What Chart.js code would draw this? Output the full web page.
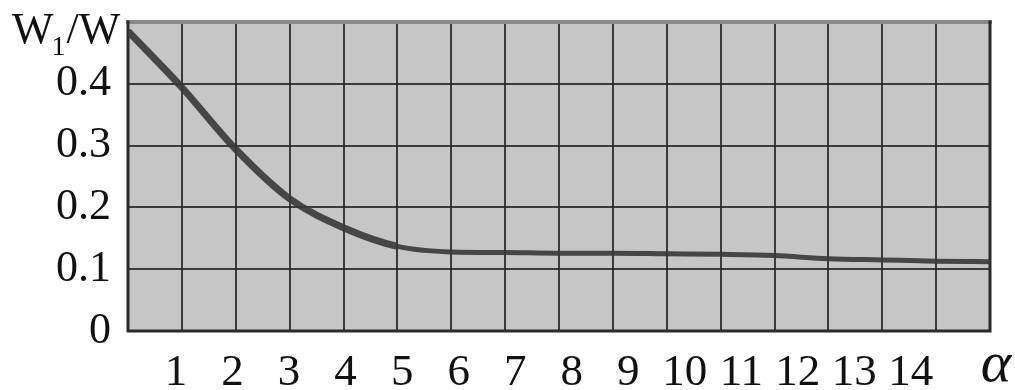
<!DOCTYPE html>
<html><head><meta charset="utf-8">
<script src="https://cdn.jsdelivr.net/npm/chart.js@4/dist/chart.umd.min.js"></script>
<style>html,body{margin:0;padding:0;background:#fff;overflow:hidden;}</style>
</head><body>
<canvas id="c" width="1015" height="390"></canvas>
<script>
// ---- data ----
const alphaGrid = [0, 1, 2, 3, 4, 5, 6, 7, 8, 9, 10, 11, 12, 13, 14, 15, 16];
const ratioW1W  = [0.485, 0.394, 0.294, 0.214, 0.167, 0.137, 0.128, 0.127, 0.126, 0.126, 0.125, 0.124, 0.122, 0.117, 0.115, 0.113, 0.112];
const xTickValues = [1, 2, 3, 4, 5, 6, 7, 8, 9, 10, 11, 12, 13, 14];
const xTickLabels = ['1','2','3','4','5','6','7','8','9','10','11','12','13','14'];
const xAxisTitle = 'α';
const yTickValues = [0, 0.1, 0.2, 0.3, 0.4];
const yTickLabels = ['0', '0.1', '0.2', '0.3', '0.4'];
const yTitleMain = 'W', yTitleSub = '1', yTitleRest = '/W';

const SERIF = '"Liberation Serif", "Times New Roman", serif';
const gridColor = 'rgba(35,35,35,0.85)';

const bgPlugin = {
  id: 'bg',
  beforeDraw(chart) {
    const {ctx, chartArea: a} = chart;
    ctx.save();
    ctx.fillStyle = '#c6c6c6';
    ctx.fillRect(a.left, a.top, a.right - a.left, a.bottom - a.top);
    ctx.restore();
  }
};
const borderPlugin = {
  id: 'frame',
  beforeDatasetsDraw(chart) {
    const {ctx, chartArea: a} = chart;
    ctx.save();
    ctx.lineCap = 'square';
    ctx.strokeStyle = '#8a8a8a'; ctx.lineWidth = 4;
    ctx.beginPath(); ctx.moveTo(a.left, a.top); ctx.lineTo(a.right, a.top); ctx.stroke();
    ctx.strokeStyle = '#2a2a2a'; ctx.lineWidth = 3;
    ctx.beginPath(); ctx.moveTo(a.left, a.top); ctx.lineTo(a.left, a.bottom); ctx.lineTo(a.right, a.bottom); ctx.lineTo(a.right, a.top); ctx.stroke();
    ctx.restore();
  }
};
const titlePlugin = {
  id: 'titles',
  afterDraw(chart) {
    const {ctx, chartArea: a} = chart;
    ctx.save();
    ctx.fillStyle = '#111';
    ctx.textBaseline = 'alphabetic';
    ctx.textAlign = 'left';
    // y-axis title W1/W
    const base = a.top + 21;
    let x = a.left - 116;
    ctx.font = '44px ' + SERIF;
    ctx.fillText(yTitleMain, x, base);
    x += ctx.measureText(yTitleMain).width - 2;
    ctx.font = '28px ' + SERIF;
    ctx.fillText(yTitleSub, x, base + 12);
    x += ctx.measureText(yTitleSub).width + 1;
    ctx.font = '44px ' + SERIF;
    ctx.fillText(yTitleRest, x, base);
    // x-axis title alpha
    ctx.font = 'italic 58px ' + SERIF;
    ctx.textAlign = 'center';
    ctx.fillText(xAxisTitle, a.right + 6, a.bottom + 50);
    ctx.restore();
  }
};

new Chart(document.getElementById('c'), {
  type: 'line',
  data: {
    datasets: [{
      data: alphaGrid.map((a, i) => ({x: a, y: ratioW1W[i]})),
      borderColor: 'rgba(55,55,55,0.9)',
      borderWidth: 6,
      segment: { borderWidth: (ctx) => ctx.p0.parsed.x < 5 ? 7 : 5 },
      pointRadius: 0,
      fill: false,
      cubicInterpolationMode: 'monotone',
      xAxisID: 'x',
      yAxisID: 'y'
    }]
  },
  options: {
    responsive: false,
    animation: false,
    devicePixelRatio: 1,
    layout: {padding: {top: 22, right: 25, left: 0, bottom: 0}},
    plugins: {legend: {display: false}, tooltip: {enabled: false}},
    scales: {
      x: {
        type: 'linear', position: 'top', min: 0, max: 16,
        ticks: {display: false, stepSize: 1},
        grid: {color: gridColor, lineWidth: 2, drawTicks: false},
        border: {display: false},
        afterFit(s) { s.height = 0; s.paddingLeft = 0; s.paddingRight = 0; }
      },
      xl: {
        type: 'linear', position: 'bottom', min: 0.15, max: 15.4,
        grid: {display: false, drawTicks: false},
        border: {display: false},
        afterBuildTicks(s) { s.ticks = xTickValues.map(v => ({value: v})); },
        ticks: {
          autoSkip: false, maxRotation: 0, minRotation: 0, padding: 15, color: '#111',
          font: {family: SERIF, size: 45},
          callback: (v, i) => xTickLabels[i]
        },
        afterFit(s) { s.height = 59; s.paddingLeft = 0; s.paddingRight = 0; }
      },
      y: {
        type: 'linear', min: 0, max: 0.5,
        afterBuildTicks(s) { s.ticks = yTickValues.map(v => ({value: v})); },
        ticks: {padding: 17, color: '#111', font: {family: SERIF, size: 44},
                callback: (v, i) => yTickLabels[i]},
        grid: {color: gridColor, lineWidth: 2, drawTicks: false},
        border: {display: false},
        afterFit(s) { s.width = 128; s.paddingTop = 0; s.paddingBottom = 0; }
      }
    }
  },
  plugins: [bgPlugin, borderPlugin, titlePlugin]
});
</script>
</body></html>
